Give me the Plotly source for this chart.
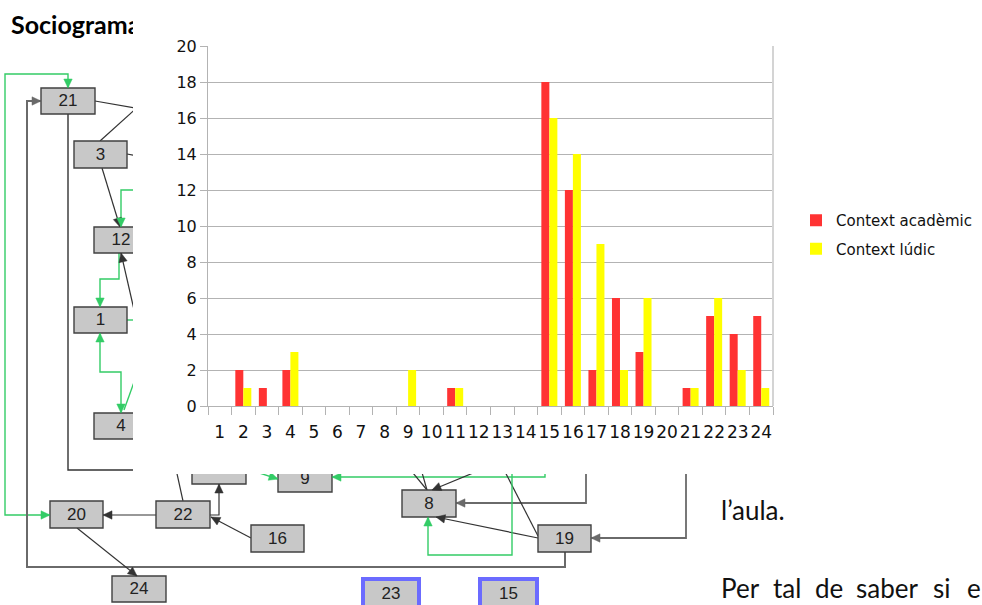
import plotly.graph_objects as go

# ---- bar chart data -------------------------------------------------------
participants = [str(i) for i in range(1, 25)]
context_academic = [0, 2, 1, 2, 0, 0, 0, 0, 0, 0, 1, 0, 0, 0, 18, 12, 2, 6, 3, 0, 1, 5, 4, 5]
context_ludic = [0, 1, 0, 3, 0, 0, 0, 0, 2, 0, 1, 0, 0, 0, 16, 14, 9, 2, 6, 0, 1, 6, 2, 1]
series_names = ["Context acadèmic", "Context lúdic"]
series_colors = ["#ff3333", "#ffff00"]
y_ticks = list(range(0, 21, 2))

W, H = 982, 605

# ---- sociogram drawn behind the chart (pixel coordinates) -----------------
BOX_FILL = "#c8c8c8"
BOX_LINE = "#404040"
BLUE = "#6b6bff"
BLACK = "#333333"
FRAME = "#6a6a6a"
GREEN = "#33cc66"

# label, x0, y0, x1, y1, style
nodes = [
    ("21", 41, 88, 95, 114, "plain"),
    ("3", 74, 141, 127, 168, "plain"),
    ("12", 94, 227, 148, 253, "plain"),
    ("1", 74, 307, 127, 333, "plain"),
    ("4", 94, 413, 148, 439, "plain"),
    ("20", 50, 501, 103, 528, "plain"),
    ("22", 156, 501, 210, 528, "plain"),
    ("16", 251, 525, 304, 552, "plain"),
    ("24", 112, 576, 166, 602, "plain"),
    ("", 192, 457, 246, 484, "plain"),
    ("9", 278, 466, 332, 492, "plain"),
    ("8", 402, 490, 456, 517, "plain"),
    ("19", 538, 525, 591, 552, "plain"),
    ("23", 363, 579, 419, 608, "isolated"),
    ("15", 480, 579, 537, 608, "isolated"),
]

# polyline points, colour, width, arrow at start, arrow at end
edges = [
    ([(50, 515), (5, 515), (5, 74), (68, 74), (68, 88)], GREEN, 1.4, True, True),
    ([(565, 552), (565, 567), (27, 567), (27, 101), (41, 101)], FRAME, 2.0, False, True),
    ([(95, 101), (170, 114)], BLACK, 1.2, False, False),
    ([(100, 141), (150, 96)], BLACK, 1.2, False, False),
    ([(127, 154), (150, 158)], BLACK, 1.2, False, False),
    ([(102, 168), (120, 227)], BLACK, 1.2, False, True),
    ([(160, 190), (121, 190), (121, 227)], GREEN, 1.4, False, True),
    ([(138, 327), (121, 253)], BLACK, 1.2, False, True),
    ([(119, 253), (119, 279), (100, 279), (100, 307)], GREEN, 1.4, False, True),
    ([(127, 320), (150, 320)], GREEN, 1.4, False, False),
    ([(100, 333), (100, 372), (121, 372), (121, 413)], GREEN, 1.4, True, True),
    ([(142, 360), (124, 410)], GREEN, 1.4, False, False),
    ([(68, 114), (68, 470), (150, 470)], BLACK, 1.4, False, False),
    ([(183, 501), (174, 460)], BLACK, 1.2, False, False),
    ([(156, 515), (103, 515)], BLACK, 1.2, False, True),
    ([(210, 515), (219, 515), (219, 484)], BLACK, 1.2, False, True),
    ([(251, 538), (211, 517)], BLACK, 1.2, False, True),
    ([(77, 528), (137, 576)], BLACK, 1.2, False, True),
    ([(250, 470), (278, 479)], GREEN, 1.4, False, True),
    ([(545, 460), (545, 477), (332, 477)], GREEN, 1.4, False, True),
    ([(404, 462), (427, 490)], BLACK, 1.2, False, False),
    ([(419, 462), (427, 490)], BLACK, 1.2, False, False),
    ([(490, 466), (432, 490)], BLACK, 1.2, False, True),
    ([(586, 460), (586, 503), (456, 503)], FRAME, 1.8, False, True),
    ([(538, 538), (436, 517)], BLACK, 1.2, False, True),
    ([(500, 462), (538, 536)], BLACK, 1.2, False, False),
    ([(512, 460), (512, 555), (428, 555), (428, 517)], GREEN, 1.4, False, True),
    ([(686, 460), (686, 538), (591, 538)], FRAME, 1.8, False, True),
]

# page text around the figure (justified body text is set word by word)
page_texts = [
    ("<b>Sociograma</b>", 11, 28, 25, "#000000"),
    ("l’aula.", 721, 513, 26, "#111111"),
    ("Per", 721, 591, 26, "#111111"),
    ("tal", 773, 591, 26, "#111111"),
    ("de", 815, 591, 26, "#111111"),
    ("saber", 856, 591, 26, "#111111"),
    ("si", 933, 591, 26, "#111111"),
    ("e", 967, 591, 26, "#111111"),
]

fig = go.Figure()

# bars
for name, vals, col in zip(series_names, [context_academic, context_ludic], series_colors):
    fig.add_trace(go.Bar(
        x=participants, y=vals, name=name, legendgroup=name,
        marker=dict(color=col, line=dict(width=0)),
        xaxis="x", yaxis="y", hoverinfo="x+y+name",
    ))

# two clipped background panels: left strip and bottom strip
panels = [("x2", "y2"), ("x3", "y3")]


def arrow_head(tip, frm, length=9.0, half=4.2):
    dx, dy = tip[0] - frm[0], tip[1] - frm[1]
    n = (dx * dx + dy * dy) ** 0.5 or 1.0
    ux, uy = dx / n, dy / n
    bx, by = tip[0] - ux * length, tip[1] - uy * length
    px, py = -uy * half, ux * half
    return f"M {tip[0]} {tip[1]} L {bx + px} {by + py} L {bx - px} {by - py} Z"


shapes = []
for xr, yr in panels:
    for pts, col, lw, a0, a1 in edges:
        path = "M " + " L ".join(f"{x} {y}" for x, y in pts)
        shapes.append(dict(type="path", path=path, xref=xr, yref=yr,
                           line=dict(color=col, width=lw), layer="below"))
    for label, x0, y0, x1, y1, style in nodes:
        edge_col, edge_w = (BLUE, 4) if style == "isolated" else (BOX_LINE, 1.4)
        shapes.append(dict(type="rect", x0=x0, y0=y0, x1=x1, y1=y1, xref=xr, yref=yr,
                           fillcolor=BOX_FILL, line=dict(color=edge_col, width=edge_w),
                           layer="below"))
    for pts, col, lw, a0, a1 in edges:
        if a0:
            shapes.append(dict(type="path", path=arrow_head(pts[0], pts[1]), xref=xr, yref=yr,
                               fillcolor=col, line=dict(color=col, width=0.5), layer="below"))
        if a1:
            shapes.append(dict(type="path", path=arrow_head(pts[-1], pts[-2]), xref=xr, yref=yr,
                               fillcolor=col, line=dict(color=col, width=0.5), layer="below"))

    lab = [n for n in nodes if n[0]]
    fig.add_trace(go.Scatter(
        x=[(n[1] + n[3]) / 2 for n in lab], y=[(n[2] + n[4]) / 2 + 1 for n in lab],
        text=[n[0] for n in lab], mode="text", textposition="middle center",
        textfont=dict(family="Liberation Sans", size=17, color="#222222"),
        xaxis=xr, yaxis=yr, cliponaxis=True, showlegend=False, hoverinfo="skip",
    ))
    fig.add_trace(go.Scatter(
        x=[t[1] for t in page_texts], y=[t[2] for t in page_texts],
        text=[t[0] for t in page_texts], mode="text", textposition="middle right",
        textfont=dict(family="Lato", size=[t[3] for t in page_texts],
                      color=[t[4] for t in page_texts]),
        xaxis=xr, yaxis=yr, cliponaxis=True, showlegend=False, hoverinfo="skip",
    ))

# right border of the plot area
shapes.append(dict(type="line", xref="x domain", yref="y domain", x0=1, x1=1, y0=0, y1=1,
                   line=dict(color="#d4d4d4", width=2)))

PX_L, PX_R, PY_T, PY_B = 208, 773, 46, 406
CUT_X, CUT_Y = 133, 474

fig.update_layout(
    width=W, height=H, autosize=False,
    margin=dict(l=0, r=0, t=0, b=0, pad=0, autoexpand=False),
    paper_bgcolor="white", plot_bgcolor="rgba(0,0,0,0)",
    barmode="group", bargap=0.32, bargroupgap=0,
    shapes=shapes,
    showlegend=True,
    legend=dict(x=1 - 5 / W, y=1 - 204 / H, xanchor="right", yanchor="top",
                font=dict(family="DejaVu Sans", size=15, color="#111111"),
                bgcolor="rgba(0,0,0,0)", traceorder="grouped", itemwidth=30,
                tracegroupgap=6),
    xaxis=dict(domain=[PX_L / W, PX_R / W], anchor="y", type="category",
               categoryorder="array", categoryarray=participants,
               range=[-0.5, len(participants) - 0.5],
               showgrid=False, showline=True, linecolor="#b3b3b3", linewidth=1,
               ticks="outside", tickson="boundaries", ticklen=8, tickcolor="#b3b3b3",
               tickangle=0,
               tickfont=dict(family="DejaVu Sans", size=17, color="#111111"),
               ticklabelstandoff=11, fixedrange=True, zeroline=False),
    yaxis=dict(domain=[1 - PY_B / H, 1 - PY_T / H], anchor="x",
               range=[0, 20], tickvals=y_ticks, ticktext=[str(v) for v in y_ticks],
               showgrid=True, gridcolor="#b3b3b3", gridwidth=1,
               showline=True, linecolor="#b3b3b3", linewidth=1,
               ticks="outside", ticklen=7, tickcolor="#b3b3b3",
               tickfont=dict(family="DejaVu Sans", size=16, color="#111111"),
               zeroline=False, fixedrange=True),
    xaxis2=dict(domain=[0, CUT_X / W], anchor="y2", range=[0, CUT_X], visible=False, fixedrange=True),
    yaxis2=dict(domain=[0, 1], anchor="x2", range=[H, 0], visible=False, fixedrange=True),
    xaxis3=dict(domain=[CUT_X / W, 1], anchor="y3", range=[CUT_X, W], visible=False, fixedrange=True),
    yaxis3=dict(domain=[0, (H - CUT_Y) / H], anchor="x3", range=[H, CUT_Y], visible=False, fixedrange=True),
)

fig.write_html("out.html")
